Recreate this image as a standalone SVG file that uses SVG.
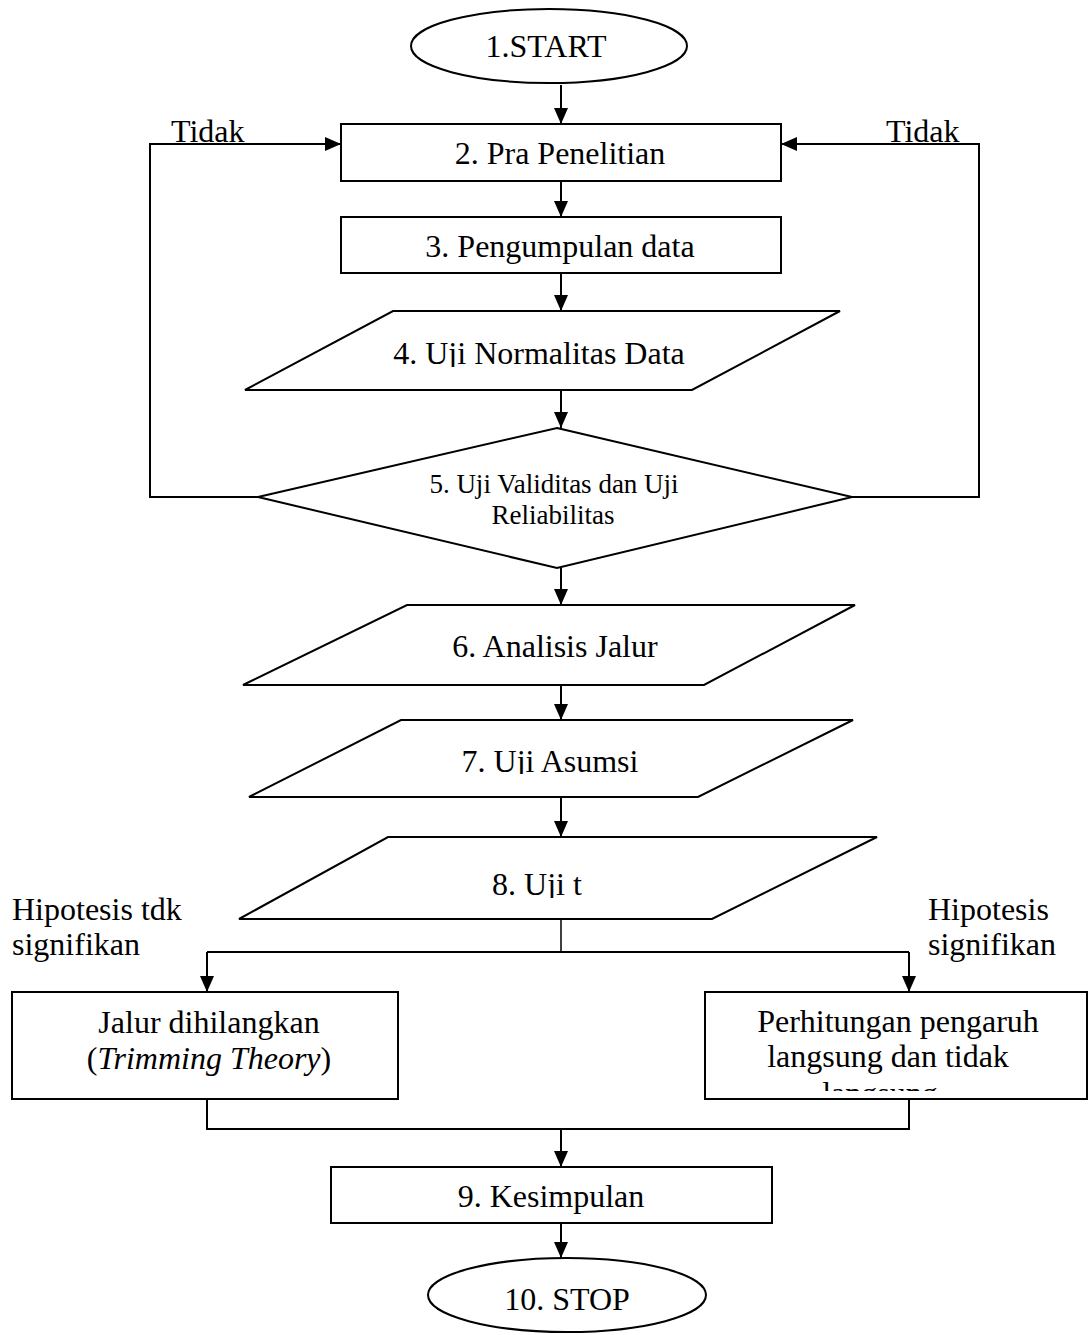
<svg xmlns="http://www.w3.org/2000/svg" width="1088" height="1335" viewBox="0 0 1088 1335">
<defs>
<style>
.s{fill:#fff;stroke:#000;stroke-width:2}
.t{font-family:"Liberation Serif","Times New Roman",serif;font-size:32px;fill:#000;text-anchor:middle}
.l{font-family:"Liberation Serif","Times New Roman",serif;font-size:32px;fill:#000}
.c{fill:none;stroke:#000;stroke-width:2}
</style>
<marker id="ah" markerUnits="userSpaceOnUse" markerWidth="16" markerHeight="14" refX="16" refY="7" orient="auto">
<path d="M0,0 L16,7 L0,14 z" fill="#000"/>
</marker>
<clipPath id="c4"><rect x="245" y="311" width="600" height="56"/></clipPath>
<clipPath id="c7"><rect x="249" y="720" width="610" height="54"/></clipPath>
<clipPath id="c8"><rect x="239" y="837" width="640" height="61"/></clipPath>
<clipPath id="cR"><rect x="706" y="992" width="381" height="99"/></clipPath>
</defs>
<rect width="1088" height="1335" fill="#fff"/>
<g id="connectors">
<line class="c" x1="561" y1="85" x2="561" y2="124" marker-end="url(#ah)"/>
<line class="c" x1="561" y1="182" x2="561" y2="217" marker-end="url(#ah)"/>
<line class="c" x1="561" y1="273" x2="561" y2="311" marker-end="url(#ah)"/>
<line class="c" x1="561" y1="390" x2="561" y2="428" marker-end="url(#ah)"/>
<polyline class="c" points="258,497 150,497 150,144 341,144" marker-end="url(#ah)"/>
<polyline class="c" points="852,497 979,497 979,144 781,144" marker-end="url(#ah)"/>
<line class="c" x1="561" y1="568" x2="561" y2="605" marker-end="url(#ah)"/>
<line class="c" x1="561" y1="685" x2="561" y2="720" marker-end="url(#ah)"/>
<line class="c" x1="561" y1="797" x2="561" y2="837" marker-end="url(#ah)"/>
<line class="c" x1="561" y1="919" x2="561" y2="952" style="stroke-width:1.5"/>
<line class="c" x1="207" y1="952" x2="909" y2="952"/>
<line class="c" x1="207" y1="952" x2="207" y2="992" marker-end="url(#ah)"/>
<line class="c" x1="909" y1="952" x2="909" y2="992" marker-end="url(#ah)"/>
<polyline class="c" points="207,1099 207,1129 909,1129 909,1099"/>
<line class="c" x1="561" y1="1129" x2="561" y2="1167" marker-end="url(#ah)"/>
<line class="c" x1="561" y1="1223" x2="561" y2="1258" marker-end="url(#ah)"/>
<text class="l" x="171" y="142">Tidak</text>
<text class="l" x="886" y="142">Tidak</text>
<text class="l" x="12" y="920">Hipotesis tdk</text>
<text class="l" x="12" y="955">signifikan</text>
<text class="l" x="928" y="920">Hipotesis</text>
<text class="l" x="928" y="955">signifikan</text>
</g>
<g id="n1">
<ellipse class="s" cx="549" cy="46" rx="138" ry="37"/>
<text class="t" x="546" y="57">1.START</text>
</g>
<g id="n2">
<rect class="s" x="341" y="124" width="440" height="57"/>
<text class="t" x="560" y="164">2. Pra Penelitian</text>
</g>
<g id="n3">
<rect class="s" x="341" y="217" width="440" height="56"/>
<text class="t" x="560" y="257">3. Pengumpulan data</text>
</g>
<g id="n4">
<polygon class="s" points="393,311 840,311 692,390 245,390"/>
<text class="t" x="539" y="364" clip-path="url(#c4)">4. Uji Normalitas Data</text>
</g>
<g id="n5">
<polygon class="s" points="557,428 852,497 557,568 258,497"/>
<text class="t" x="554" y="493" style="font-size:27px">5. Uji Validitas dan Uji</text>
<text class="t" x="553" y="524" style="font-size:27px">Reliabilitas</text>
</g>
<g id="n6">
<polygon class="s" points="407,605 855,605 704,685 243,685"/>
<text class="t" x="555" y="657">6. Analisis Jalur</text>
</g>
<g id="n7">
<polygon class="s" points="401,720 853,720 698,797 249,797"/>
<text class="t" x="550" y="772" clip-path="url(#c7)">7. Uji Asumsi</text>
</g>
<g id="n8">
<polygon class="s" points="388,837 877,837 712,919 239,919"/>
<text class="t" x="537" y="895" clip-path="url(#c8)">8. Uji t</text>
</g>
<g id="nL">
<rect class="s" x="12" y="992" width="386" height="107"/>
<text class="t" x="209" y="1033">Jalur dihilangkan</text>
<text class="t" x="209" y="1069">(<tspan font-style="italic">Trimming Theory</tspan>)</text>
</g>
<g id="nR">
<rect class="s" x="705" y="992" width="382" height="107"/>
<g clip-path="url(#cR)">
<text class="t" x="898" y="1032">Perhitungan pengaruh</text>
<text class="t" x="888" y="1067">langsung dan tidak</text>
<text class="t" x="880" y="1104">langsung</text>
</g>
</g>
<g id="n9">
<rect class="s" x="331" y="1167" width="441" height="56"/>
<text class="t" x="551" y="1207">9. Kesimpulan</text>
</g>
<g id="n10">
<ellipse class="s" cx="567" cy="1295" rx="139" ry="37"/>
<text class="t" x="567" y="1310">10. STOP</text>
</g>
</svg>
